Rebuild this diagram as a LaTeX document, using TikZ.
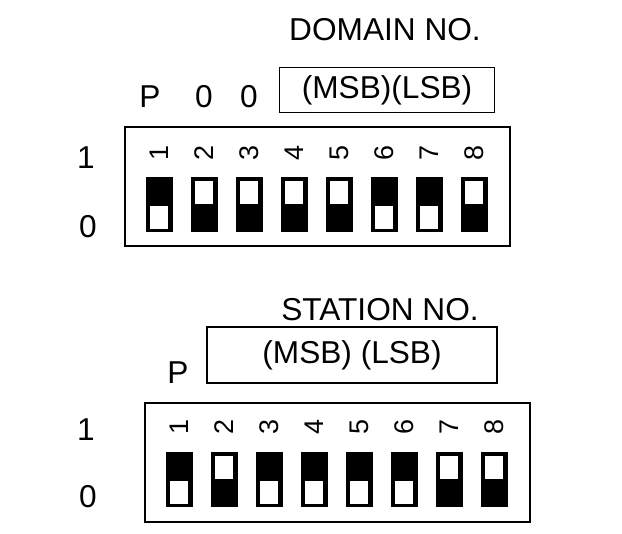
\documentclass[tikz,border=0pt]{standalone}
\usepackage{fontspec}
\setmainfont{Liberation Sans}
\usetikzlibrary{positioning}
\begin{document}
\begin{tikzpicture}[x=0.03cm, y=-0.03cm,
		lbl/.style={inner sep=0pt, font=\fontsize{27}{27}\selectfont},
		num/.style={inner sep=0pt, rotate=90, font=\fontsize{23}{23}\selectfont},
		frame/.style={draw, line width=1.3pt},
		sw/.style={fill=black, minimum width=0.81cm, minimum height=1.65cm, inner sep=0pt},
		knob/.style={fill=white, draw=black, line width=0pt, minimum width=0.57cm, minimum height=0.72cm, inner sep=0pt}
	]
	\useasboundingbox (0,0) rectangle (622,533);

	% Domain number
	\node[frame, minimum width=6.45cm, minimum height=1.35cm] (dombox) at (387,90) {};
	\node[lbl] (domlbl) at (387,90) {(MSB)(LSB)};
	\node[lbl] (domtitle) at (385,30) {DOMAIN NO.};
	\node[lbl] (dp) at (150,97) {P};
	\node[lbl] (d0a) at (204,97) {0};
	\node[lbl] (d0b) at (249,97) {0};
	\node[frame, minimum width=11.55cm, minimum height=3.57cm] (dombank) at (317.5,186.5) {};
	\node[lbl] (done) at (86,158) {1};
	\node[lbl] (dzero) at (88,227) {0};
	\foreach \s [count=\i] in {1,0,0,0,0,1,1,0} {
		\node[num] (dn\i) at ({159+45*(\i-1)},153) {\i};
		\node[sw] (ds\i) at ({159+45*(\i-1)},204.5) {};
		\ifnum\s=1
			\node[knob] at ({159+45*(\i-1)},217) {};
		\else
			\node[knob] at ({159+45*(\i-1)},192) {};
		\fi
	}

	% Station number
	\node[frame, minimum width=8.7cm, minimum height=1.68cm] (stabox) at (352,355) {};
	\node[lbl] (stalbl) at (352,355) {(MSB) (LSB)};
	\node[lbl] (statitle) at (380,310) {STATION NO.};
	\node[lbl] (sp) at (178,373) {P};
	\node[frame, minimum width=11.55cm, minimum height=3.57cm] (stabank) at (337.5,462.5) {};
	\node[lbl] (sone) at (86,430) {1};
	\node[lbl] (szero) at (88,497) {0};
	\foreach \s [count=\i] in {1,0,1,1,1,1,0,0} {
		\node[num] (sn\i) at ({179+45*(\i-1)},427) {\i};
		\node[sw] (ss\i) at ({179+45*(\i-1)},479.5) {};
		\ifnum\s=1
			\node[knob] at ({179+45*(\i-1)},492) {};
		\else
			\node[knob] at ({179+45*(\i-1)},467) {};
		\fi
	}
\end{tikzpicture}
\end{document}
